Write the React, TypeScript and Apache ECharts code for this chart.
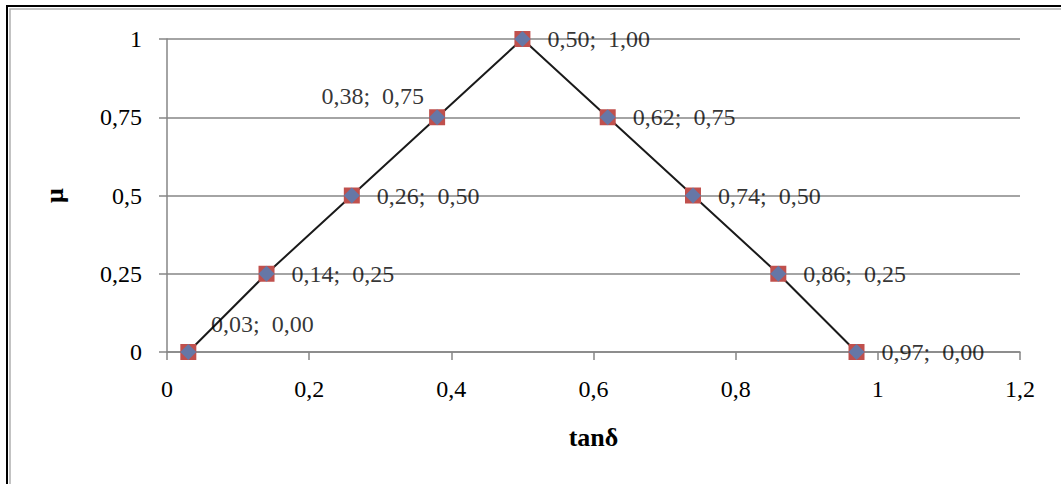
import React, { useEffect, useRef } from "react";
import * as echarts from "echarts";

const xValues = [0.03, 0.14, 0.26, 0.38, 0.5, 0.62, 0.74, 0.86, 0.97];
const muValues = [0, 0.25, 0.5, 0.75, 1, 0.75, 0.5, 0.25, 0];
const xTicks = [0, 0.2, 0.4, 0.6, 0.8, 1, 1.2];
const yTicks = [0, 0.25, 0.5, 0.75, 1];

const fmt = (v: number, d: number) => v.toFixed(d).replace(".", ",");
const tickFmt = (v: number) => String(Math.round(v * 100) / 100).replace(".", ",");

export default function App() {
  const ref = useRef<HTMLDivElement>(null);
  useEffect(() => {
    document.body.style.margin = "0";
    const chart = echarts.init(ref.current!, null, { renderer: "svg" });
    const font = "'Liberation Serif', 'DejaVu Serif', serif";
    const pts = xValues.map((x, i) => [x, muValues[i]]);
    const labelFor = (i: number) => {
      if (i === 0) return { position: "top", offset: [74, -3] };
      if (i === 3) return { position: "left", offset: [0, -21] };
      return { position: "right", offset: [12, 0] };
    };
    chart.setOption({
      animation: false,
      backgroundColor: "#fff",
      textStyle: { fontFamily: font },
      graphic: [
        { type: "rect", shape: { x: 7, y: 6, width: 1200, height: 700 }, style: { fill: "none", stroke: "#000", lineWidth: 2 }, silent: true },
        { type: "rect", shape: { x: 10, y: 9, width: 1200, height: 700 }, style: { fill: "none", stroke: "#b0b0b0", lineWidth: 1.5 }, silent: true },
      ],
      grid: { left: 167, right: 41, top: 39, bottom: 132 },
      xAxis: {
        type: "value",
        min: xTicks[0],
        max: xTicks[xTicks.length - 1],
        interval: 0.2,
        name: "tanδ",
        nameLocation: "middle",
        nameGap: 72,
        nameTextStyle: { fontFamily: font, fontSize: 26, fontWeight: "bold", color: "#000" },
        axisLine: { show: true, onZero: false, lineStyle: { color: "#868686", width: 1.5 } },
        axisTick: { show: true, length: 8, lineStyle: { color: "#868686", width: 1.5 } },
        axisLabel: { formatter: tickFmt, fontSize: 24, color: "#000", fontFamily: font, margin: 25 },
        splitLine: { show: false },
      },
      yAxis: {
        type: "value",
        min: yTicks[0],
        max: yTicks[yTicks.length - 1],
        interval: 0.25,
        name: "μ",
        nameLocation: "middle",
        nameGap: 100,
        nameRotate: 90,
        nameTextStyle: { fontFamily: font, fontSize: 26, fontWeight: "bold", color: "#000" },
        axisLine: { show: true, lineStyle: { color: "#868686", width: 1.5 } },
        axisTick: { show: true, length: 8, lineStyle: { color: "#868686", width: 1.5 } },
        axisLabel: { formatter: tickFmt, fontSize: 24, color: "#000", fontFamily: font, margin: 25 },
        splitLine: { show: true, lineStyle: { color: "#868686", width: 1.5 } },
      },
      series: [
        {
          type: "line",
          data: pts,
          symbol: "rect",
          symbolSize: 16,
          itemStyle: { color: "#C0504D" },
          lineStyle: { color: "#1a1a1a", width: 2 },
          z: 2,
        },
        {
          type: "scatter",
          data: pts.map((p, i) => ({
            value: p,
            label: {
              show: true,
              ...labelFor(i),
              formatter: () => `${fmt(p[0], 2)};  ${fmt(p[1], 2)}`,
              fontSize: 24,
              fontFamily: font,
              color: "#000",
            },
          })),
          symbol: "diamond",
          symbolSize: 16,
          itemStyle: { color: "#4F81BD" },
          z: 3,
        },
      ],
    });
    return () => chart.dispose();
  }, []);
  return <div ref={ref} style={{ width: 1061, height: 484 }} />;
}
